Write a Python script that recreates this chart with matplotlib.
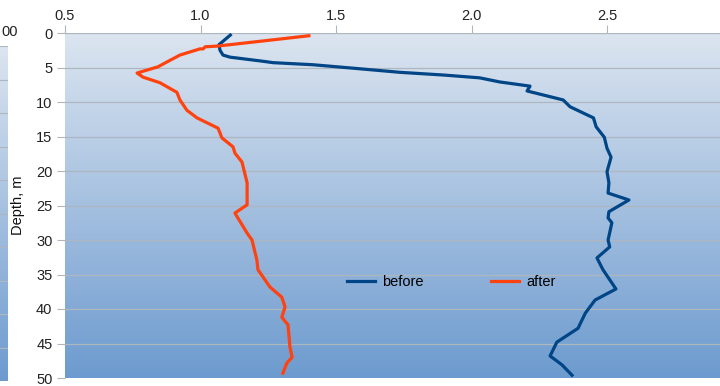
import numpy as np
import matplotlib
matplotlib.use("Agg")
import matplotlib.pyplot as plt
from matplotlib.colors import LinearSegmentedColormap

# values (x = value, depth in m)
before_x = [1.11, 1.068, 1.072, 1.083, 1.109, 1.231, 1.268, 1.415, 1.563, 1.736,
            1.90, 2.03, 2.105, 2.216, 2.205, 2.338, 2.364, 2.45, 2.46, 2.49,
            2.5, 2.515, 2.5, 2.507, 2.504, 2.581, 2.507, 2.504, 2.518, 2.504,
            2.51, 2.463, 2.485, 2.533, 2.456, 2.42, 2.393, 2.315, 2.29, 2.334, 2.371]
before_d = [0.3, 1.7, 2.5, 3.2, 3.5, 4.1, 4.3, 4.6, 5.1, 5.7,
            6.1, 6.5, 7.1, 7.7, 8.4, 9.7, 10.7, 12.3, 13.6, 15.1,
            16.7, 18.0, 20.1, 21.7, 23.2, 24.2, 25.9, 26.8, 27.5, 30.0,
            31.0, 32.6, 34.3, 37.1, 38.7, 40.6, 42.8, 44.8, 46.8, 48.1, 49.6]

after_x = [1.40, 1.22, 1.061, 1.017, 1.01, 0.998, 0.924, 0.876, 0.843, 0.766,
           0.788, 0.85, 0.913, 0.924, 0.95, 0.987, 1.065, 1.079, 1.12, 1.127,
           1.153, 1.172, 1.172, 1.127, 1.172, 1.19, 1.208, 1.212, 1.256, 1.30,
           1.312, 1.30, 1.323, 1.33, 1.338, 1.319, 1.304]
after_d = [0.4, 1.2, 1.9, 2.0, 2.3, 2.3, 3.2, 4.2, 4.9, 5.8,
           6.4, 7.2, 8.6, 9.7, 11.2, 12.3, 13.8, 15.2, 16.5, 17.4,
           18.7, 21.7, 24.9, 26.1, 29.0, 30.0, 32.9, 34.3, 36.8, 38.3,
           39.7, 41.2, 42.3, 45.5, 47.0, 47.8, 49.3]

x_ticks = [0.5, 1.0, 1.5, 2.0, 2.5]
y_ticks = [0, 5, 10, 15, 20, 25, 30, 35, 40, 45, 50]

plt.rcParams['font.family'] = ['Liberation Sans', 'DejaVu Sans']
W, H = 720, 386
fig = plt.figure(figsize=(W / 100, H / 100), dpi=100)

grad = LinearSegmentedColormap.from_list("bg", ["#dce5f0", "#6d9bcf"])
gimg = np.linspace(0, 1, 256).reshape(-1, 1)
gridc = "#aeb6bf"

# cropped neighbour chart on the far left
axl = fig.add_axes([0, 1 - 381 / H, 8 / W, 335 / H])
axl.imshow(gimg, aspect="auto", cmap=grad, extent=[0, 1, 0, 1], transform=axl.transAxes)
axl.set_ylim(10, 0)
axl.set_xlim(0, 1)
for k in range(0, 10):
    axl.axhline(k, color=gridc, lw=0.8)
axl.set_xticks([]); axl.set_yticks([])
for s in axl.spines.values():
    s.set_visible(False)
fig.text(1 / W, 1 - 32 / H, "00", ha="left", va="center", fontsize=10.5, color="#222222")

# main chart
ax = fig.add_axes([65 / W, 1 - 378 / H, 655 / W, 345 / H])
ax.imshow(gimg, aspect="auto", cmap=grad, extent=[0, 1, 0, 1], transform=ax.transAxes, zorder=0)
ax.set_xlim(0.5, 0.5 + 655 / 271)
ax.set_ylim(50, 0)
for y in y_ticks[:-1]:
    ax.axhline(y, color=gridc, lw=0.9, zorder=1)

ax.plot(before_x, before_d, color="#004586", lw=2.3, label="before", zorder=3)
ax.plot(after_x, after_d, color="#ff420e", lw=2.3, label="after", zorder=3)

ax.xaxis.tick_top()
ax.set_xticks(x_ticks)
ax.set_xticklabels([f"{v:.1f}" for v in x_ticks])
ax.set_yticks(y_ticks)
ax.tick_params(axis="both", colors=gridc, labelcolor="#222222", labelsize=10.5,
               length=6, width=0.8)
ax.tick_params(axis="x", pad=1)
ax.tick_params(axis="y", pad=3)
for s in ax.spines.values():
    s.set_visible(False)
ax.set_ylabel("Depth, m", fontsize=10.5, color="#111111", labelpad=8)

ax.legend(loc="center", bbox_to_anchor=(0.59, 0.278), ncol=2, frameon=False,
          fontsize=10.5, handlelength=1.9, columnspacing=4.6, handletextpad=0.5)

fig.savefig("out.png", dpi=100)
